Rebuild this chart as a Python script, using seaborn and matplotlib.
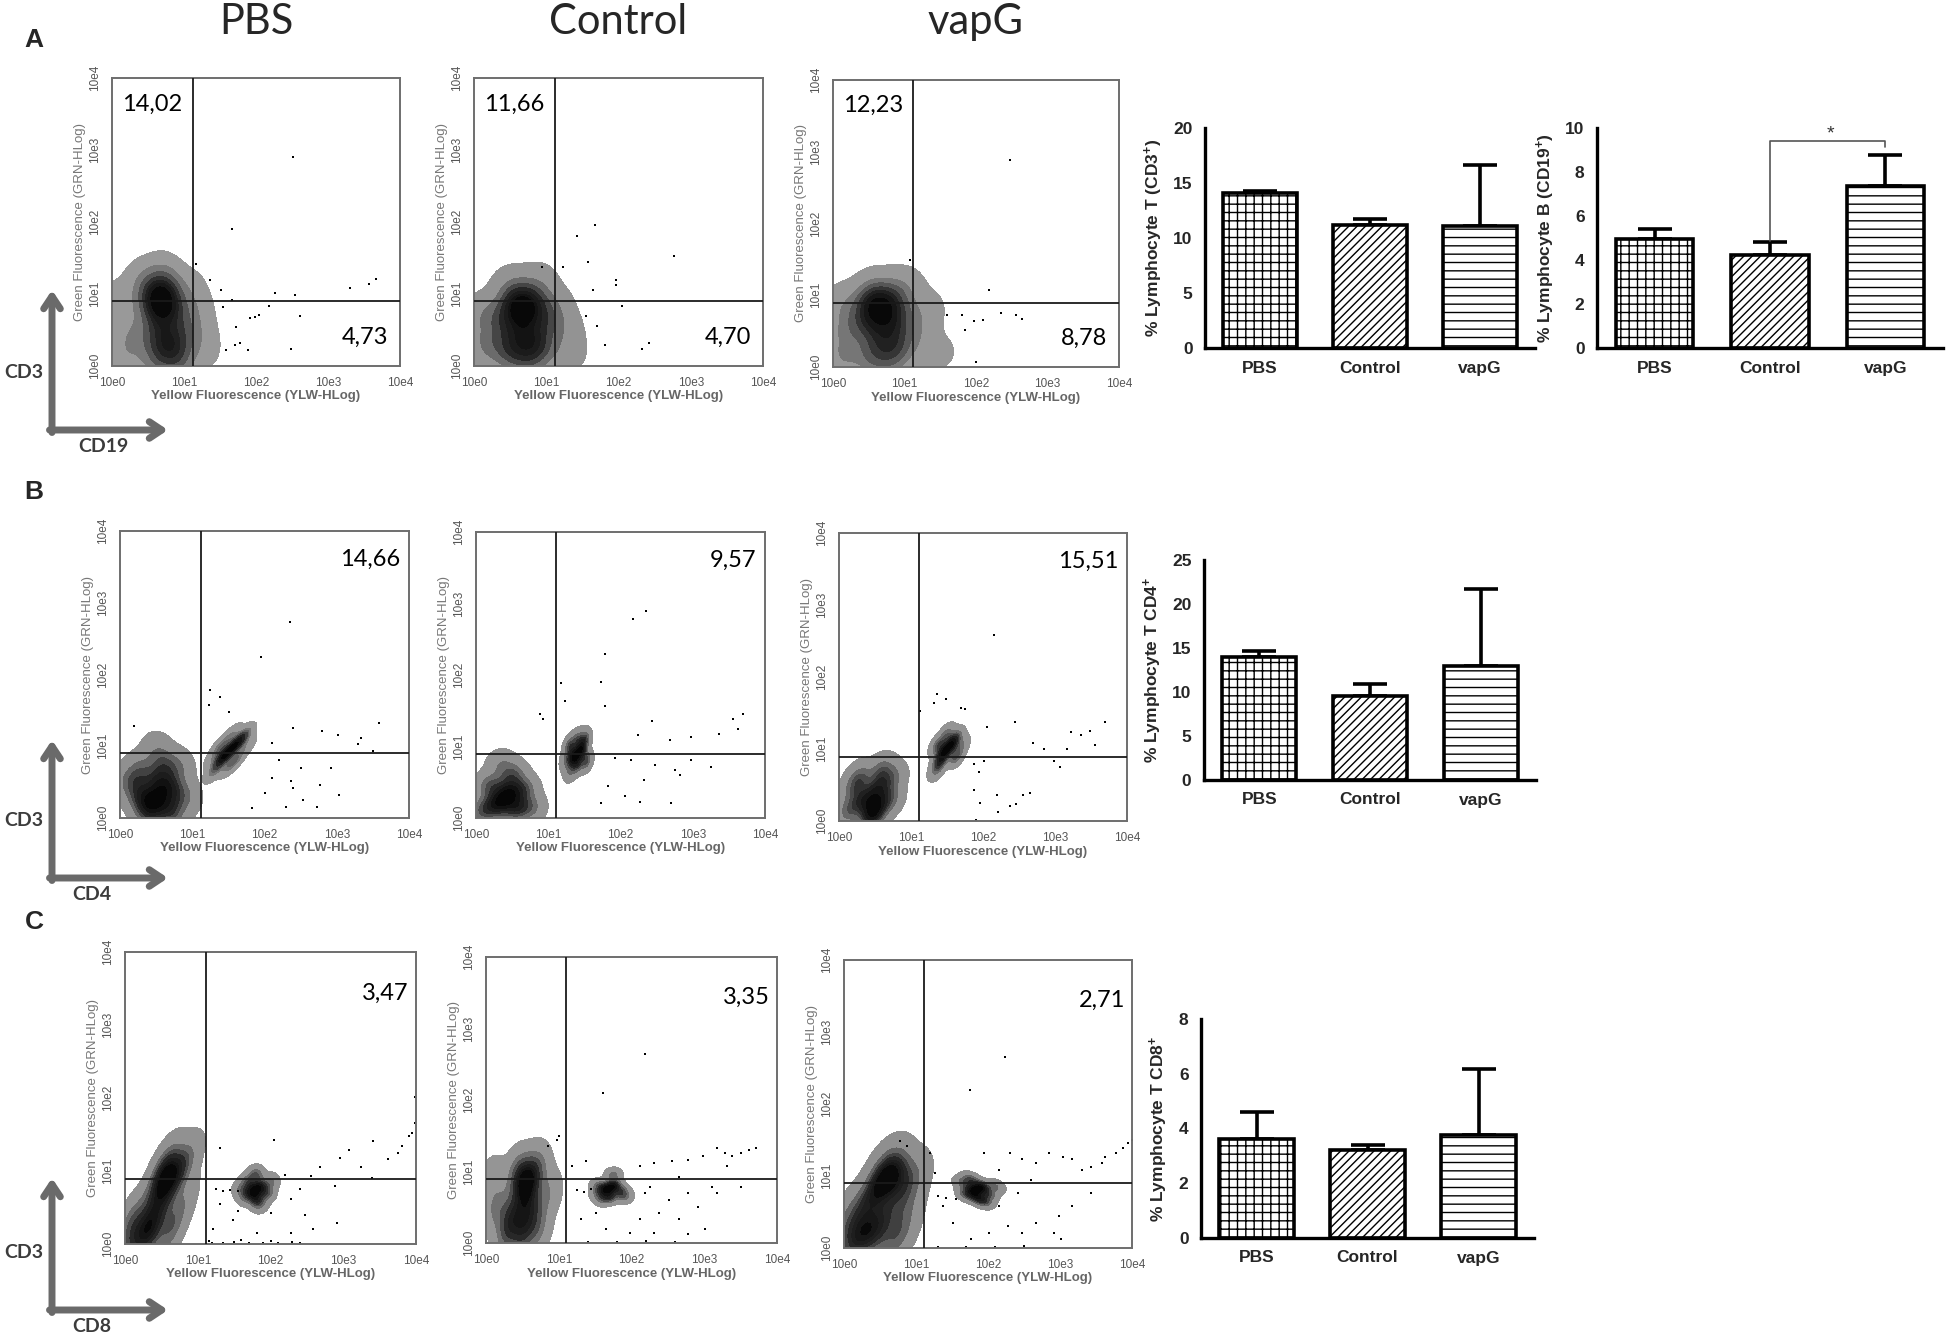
import numpy as np
import matplotlib
matplotlib.use("Agg")
import matplotlib.pyplot as plt
from matplotlib.colors import LinearSegmentedColormap
import seaborn as sns

# bar chart values (mean, upper error)
groups = ["PBS", "Control", "vapG"]
cd3_mean = [14.05, 11.2, 11.05]
cd3_err = [0.25, 0.5, 5.55]
cd19_mean = [4.95, 4.25, 7.38]
cd19_err = [0.45, 0.57, 1.41]
cd4_mean = [14.0, 9.6, 13.0]
cd4_err = [0.7, 1.3, 8.7]
cd8_mean = [3.62, 3.21, 3.77]
cd8_err = [1.0, 0.17, 2.4]

# quadrant percentages
a_upper_left = ["14,02", "11,66", "12,23"]
a_lower_right = ["4,73", "4,70", "8,78"]
b_upper_right = ["14,66", "9,57", "15,51"]
c_upper_right = ["3,47", "3,35", "2,71"]

# gate positions in decades (x, y)
a_gates = [(1.12, 0.90), (1.12, 0.90), (1.12, 0.89)]
b_gates = [(1.12, 0.90), (1.11, 0.89), (1.11, 0.89)]
c_gates = [(1.11, 0.89), (1.10, 0.89), (1.11, 0.90)]

# dense populations, one list per cluster: (log x, log y, weight)
a_pbs_cloud = [[(0.55, 0.95, 4), (0.7, 0.9, 5), (0.65, 1.05, 3), (0.8, 1.0, 3), (0.6, 0.75, 3),
                (0.85, 0.8, 3), (0.7, 0.45, 4), (0.85, 0.3, 4), (0.65, 0.15, 4), (0.9, 0.1, 3),
                (1.05, 0.35, 2), (1.0, 0.6, 2), (0.15, 0.5, 1), (0.2, 0.15, 1.5), (0.1, 0.85, 1),
                (1.2, 0.7, 0.8), (1.3, 0.3, 0.7), (0.75, 1.2, 1), (0.4, 1.1, 1), (0.45, 0.4, 2),
                (1.1, 1.0, 1)]]
a_ctrl_cloud = [[(0.55, 0.8, 4), (0.75, 0.75, 4), (0.65, 0.95, 3), (0.85, 0.9, 2), (0.4, 0.6, 2),
                 (0.6, 0.45, 3), (0.8, 0.4, 3), (0.5, 0.2, 3), (0.75, 0.15, 3), (0.95, 0.25, 2),
                 (0.2, 0.3, 2), (0.15, 0.7, 1.5), (1.0, 0.6, 2), (1.1, 0.8, 1.2), (1.25, 0.5, 0.8),
                 (1.3, 0.2, 0.8), (0.9, 1.15, 0.8), (0.5, 1.1, 0.8)]]
a_vapg_cloud = [[(0.55, 0.85, 5), (0.7, 0.8, 5), (0.6, 1.0, 3), (0.85, 0.95, 3), (0.8, 0.65, 4),
                 (0.45, 0.65, 3), (0.6, 0.45, 3), (0.8, 0.4, 3), (0.55, 0.15, 3), (0.8, 0.15, 3),
                 (0.95, 0.3, 2), (0.2, 0.5, 2), (0.15, 0.15, 2), (0.15, 0.85, 1.5), (1.05, 0.65, 2),
                 (1.2, 0.4, 1), (1.3, 0.8, 0.8), (1.0, 1.1, 1), (1.5, 0.2, 0.5)]]
b_pbs_cloud = [[(0.3, 0.3, 3), (0.5, 0.25, 4), (0.55, 0.5, 3), (0.7, 0.4, 3), (0.4, 0.1, 3),
                (0.7, 0.1, 3), (0.3, 0.65, 2), (0.6, 0.75, 2), (0.15, 0.5, 2), (0.8, 0.7, 1.5),
                (0.9, 0.3, 1.5), (0.5, 0.95, 1)],
               [(1.45, 0.88, 5), (1.55, 0.97, 5), (1.65, 1.07, 4), (1.38, 0.78, 3), (1.72, 1.15, 2),
                (1.3, 0.65, 1.5), (1.4, 1.0, 2), (1.6, 0.82, 2), (1.55, 1.15, 1.5), (1.5, 0.72, 1.5),
                (1.75, 1.0, 1), (1.3, 0.85, 1)]]
b_ctrl_cloud = [[(0.3, 0.2, 4), (0.45, 0.35, 4), (0.55, 0.15, 3), (0.2, 0.45, 2), (0.5, 0.6, 2),
                 (0.65, 0.4, 2), (0.1, 0.1, 2), (0.35, 0.75, 1), (0.75, 0.15, 1.5)],
                [(1.35, 0.85, 4), (1.45, 0.95, 4), (1.4, 0.75, 2), (1.5, 1.1, 2), (1.3, 0.65, 1),
                 (1.3, 1.0, 2), (1.52, 0.8, 2), (1.4, 1.1, 1.5), (1.25, 0.8, 1)]]
b_vapg_cloud = [[(0.35, 0.3, 3), (0.5, 0.2, 4), (0.55, 0.45, 3), (0.7, 0.3, 2), (0.3, 0.6, 2),
                 (0.6, 0.7, 2), (0.15, 0.15, 2), (0.75, 0.6, 1.5), (0.45, 0.05, 3), (0.2, 0.45, 1.5)],
                [(1.45, 0.95, 4), (1.55, 1.05, 4), (1.4, 0.82, 2.5), (1.62, 1.15, 2), (1.35, 0.7, 1),
                 (1.38, 1.05, 2), (1.62, 0.9, 2), (1.5, 1.2, 1.5), (1.7, 1.05, 1)]]
c_pbs_cloud = [[(0.5, 0.9, 4), (0.6, 0.95, 4), (0.65, 0.8, 3), (0.55, 1.1, 2), (0.75, 1.05, 2),
                (0.2, 0.15, 3), (0.35, 0.25, 3), (0.3, 0.05, 3), (0.5, 0.3, 2), (0.4, 0.5, 2),
                (0.15, 0.4, 1.5), (0.6, 0.1, 2), (0.5, 0.65, 1.5), (0.1, 0.1, 2), (0.8, 0.6, 1),
                (0.85, 1.1, 1.5), (0.05, 0.3, 1.5), (0.7, 0.35, 1.5)],
               [(1.75, 0.72, 3), (1.85, 0.78, 3), (1.8, 0.62, 2), (1.7, 0.85, 1.5), (1.95, 0.7, 1.5),
                (1.65, 0.65, 1), (1.8, 0.95, 1.5), (1.6, 0.75, 1), (2.0, 0.85, 1), (1.85, 0.55, 1)]]
c_ctrl_cloud = [[(0.5, 0.85, 4), (0.6, 0.9, 4), (0.45, 1.0, 2), (0.7, 1.05, 2), (0.55, 0.65, 3),
                 (0.35, 0.4, 3), (0.5, 0.35, 3), (0.65, 0.45, 2.5), (0.3, 0.15, 3), (0.5, 0.1, 3),
                 (0.15, 0.5, 2), (0.1, 0.9, 1), (0.7, 0.2, 2), (0.85, 0.7, 1.5)],
                [(1.65, 0.75, 3), (1.75, 0.8, 3), (1.7, 0.65, 2), (1.85, 0.72, 1.5), (1.55, 0.7, 1),
                 (1.55, 0.8, 1), (1.75, 0.95, 1), (1.9, 0.65, 1), (1.6, 0.62, 1)]]
c_vapg_cloud = [[(0.55, 0.95, 4), (0.7, 1.0, 4), (0.6, 1.15, 2), (0.8, 0.85, 2), (0.45, 0.8, 2),
                 (0.3, 0.3, 3), (0.45, 0.2, 3), (0.2, 0.1, 3), (0.55, 0.45, 2), (0.3, 0.6, 2),
                 (0.1, 0.5, 1.5), (0.8, 0.3, 1.5), (0.85, 0.6, 1.5), (0.95, 0.95, 1.5),
                 (0.05, 0.2, 2), (0.7, 0.1, 2)],
                [(1.8, 0.8, 3), (1.9, 0.85, 3), (1.85, 0.7, 2), (1.7, 0.75, 1.5), (2.0, 0.75, 1.5),
                 (1.75, 0.95, 1.5), (1.95, 0.65, 1.5), (2.1, 0.85, 1), (1.65, 0.9, 1)]]

# sparse single events (log x, log y)
a_pbs_dots = [(2.51, 2.9), (1.67, 1.9), (1.16, 1.41), (2.26, 1.02), (2.54, 0.98), (3.31, 1.09),
              (3.57, 1.14), (3.66, 1.21), (2.18, 0.83), (1.91, 0.66), (1.98, 0.68), (2.04, 0.71),
              (2.61, 0.7), (1.72, 0.54), (1.78, 0.32), (1.71, 0.29), (1.59, 0.22), (1.89, 0.22),
              (2.48, 0.23), (1.67, 0.91), (1.54, 0.82), (1.36, 1.2), (1.52, 1.06)]
a_ctrl_dots = [(1.67, 1.96), (1.43, 1.8), (2.77, 1.53), (1.58, 1.45), (1.96, 1.19), (1.96, 1.12),
               (1.65, 1.06), (2.05, 0.84), (2.42, 0.32), (2.32, 0.23), (1.82, 0.29), (1.23, 1.38),
               (0.94, 1.38), (1.55, 0.7), (1.7, 0.55)]
a_vapg_dots = [(2.47, 2.88), (1.08, 1.49), (2.18, 1.07), (2.35, 0.75), (2.56, 0.72), (2.64, 0.67),
               (1.85, 0.51), (1.97, 0.64), (2.1, 0.66), (1.8, 0.73), (1.6, 0.72), (2.0, 0.07)]
b_pbs_dots = [(1.24, 1.79), (1.38, 1.69), (1.23, 1.58), (1.51, 1.48), (2.35, 2.73), (1.95, 2.24),
              (2.39, 1.25), (2.79, 1.21), (3.02, 1.15), (3.33, 1.12), (3.58, 1.32), (3.29, 1.03),
              (3.5, 0.94), (0.19, 1.28), (2.5, 0.7), (2.92, 0.7), (2.37, 0.51), (2.4, 0.42),
              (2.77, 0.46), (3.03, 0.32), (2.53, 0.25), (2.73, 0.16), (2.3, 0.16), (2.1, 0.56),
              (2.0, 0.35), (1.83, 0.14), (2.2, 0.81), (2.1, 1.04)]
b_ctrl_dots = [(2.35, 2.89), (2.17, 2.78), (1.79, 2.3), (1.73, 1.9), (1.18, 1.89), (1.23, 1.64),
               (1.79, 1.57), (0.89, 1.46), (0.93, 1.39), (3.56, 1.39), (3.69, 1.46), (3.62, 1.25),
               (3.37, 1.17), (2.98, 1.13), (2.68, 1.09), (2.44, 1.36), (2.24, 1.16), (1.92, 0.84),
               (2.14, 0.81), (2.48, 0.74), (3.25, 0.71), (2.98, 0.81), (2.75, 0.67), (2.82, 0.6),
               (2.33, 0.53), (2.7, 0.21), (2.27, 0.22), (2.06, 0.31), (1.83, 0.45), (1.73, 0.21)]
b_vapg_dots = [(2.15, 2.59), (1.36, 1.76), (1.32, 1.64), (1.49, 1.69), (1.69, 1.57), (1.75, 1.55),
               (1.12, 1.53), (2.45, 1.38), (2.05, 1.31), (2.69, 1.08), (2.85, 1.0), (3.22, 1.23),
               (3.36, 1.2), (3.49, 1.25), (3.69, 1.37), (3.55, 1.06), (3.16, 1.0), (2.98, 0.84),
               (3.07, 0.75), (2.02, 0.84), (1.88, 0.79), (1.95, 0.68), (2.2, 0.36), (1.96, 0.25),
               (2.21, 0.13), (2.56, 0.36), (2.65, 0.39), (2.38, 0.21), (2.46, 0.24), (1.87, 0.43),
               (1.9, 0.01)]
c_pbs_dots = [(3.98, 2.01), (3.98, 1.66), (3.95, 1.52), (3.91, 1.48), (3.81, 1.34), (3.75, 1.25),
              (3.61, 1.16), (3.41, 1.41), (3.25, 1.06), (3.08, 1.29), (2.95, 1.18), (2.88, 0.79),
              (2.68, 1.06), (2.55, 0.93), (2.41, 0.75), (2.28, 0.61), (2.48, 0.4), (2.58, 0.2),
              (2.91, 0.29), (2.28, 0.15), (2.05, 1.43), (1.31, 1.32), (1.81, 0.15), (1.48, 0.33),
              (1.21, 0.2), (2.01, 0.42), (1.2, 0.02), (1.35, 0.02), (1.5, 0.03), (1.7, 0.02),
              (1.9, 0.02), (2.1, 0.02), (2.3, 0.03), (1.15, 0.04), (1.6, 0.05), (2.0, 0.04),
              (2.4, 0.02), (1.3, 0.55), (1.55, 0.45), (2.2, 0.95), (3.4, 0.9), (1.25, 0.75),
              (1.35, 0.72), (1.45, 0.74), (1.55, 0.73)]
c_ctrl_dots = [(2.18, 2.65), (1.61, 2.1), (3.18, 1.33), (3.28, 1.26), (3.38, 1.21), (3.51, 1.26),
               (3.61, 1.3), (3.71, 1.33), (2.98, 1.21), (2.78, 1.16), (2.55, 1.14), (2.31, 1.12),
               (2.11, 1.07), (3.11, 0.79), (3.18, 0.7), (2.91, 0.51), (3.01, 0.19), (2.65, 0.33),
               (2.51, 0.6), (2.38, 0.42), (2.18, 0.7), (2.11, 0.33), (1.98, 0.14), (2.31, 0.14),
               (2.78, 0.12), (1.51, 0.42), (1.31, 0.33), (1.65, 0.19), (1.18, 1.07), (1.38, 1.14),
               (0.98, 1.44), (0.85, 1.35), (1.01, 1.49), (2.65, 0.93), (2.25, 0.79), (3.51, 0.79),
               (3.31, 1.07), (2.78, 0.7), (1.4, 0.02), (1.8, 0.02), (2.2, 0.03), (2.6, 0.02),
               (1.25, 0.74), (1.35, 0.72), (1.45, 0.76)]
c_vapg_dots = [(2.23, 2.65), (1.75, 2.19), (4.0, 1.5), (3.94, 1.46), (3.87, 1.39), (3.78, 1.32),
               (3.62, 1.27), (3.59, 1.18), (3.43, 1.13), (3.3, 1.09), (3.17, 1.23), (3.04, 1.27),
               (2.85, 1.32), (2.66, 1.18), (2.47, 1.23), (2.31, 1.32), (2.15, 1.09), (1.95, 1.32),
               (3.43, 0.76), (3.17, 0.58), (2.98, 0.44), (2.92, 0.21), (3.01, 0.12), (2.66, 0.35),
               (2.47, 0.21), (2.28, 0.3), (2.15, 0.58), (2.41, 0.76), (1.38, 0.58), (1.26, 1.04),
               (1.19, 1.32), (0.87, 1.41), (0.78, 1.48), (1.51, 0.35), (1.77, 0.12), (2.02, 0.21),
               (2.6, 0.94), (1.3, 0.02), (1.7, 0.02), (2.1, 0.02), (2.5, 0.03), (1.3, 0.72),
               (1.42, 0.7), (1.55, 0.68)]

sns.set_style("white")
plt.rcParams["font.family"] = ["Liberation Sans", "DejaVu Sans"]
plt.rcParams["mathtext.fontset"] = "custom"
plt.rcParams["mathtext.rm"] = "Liberation Sans:bold"
plt.rcParams["mathtext.default"] = "rm"
plt.rcParams["hatch.linewidth"] = 1.0

W, H = 1950, 1335
fig = plt.figure(figsize=(19.5, 13.35), dpi=100)
cloud_cmap = LinearSegmentedColormap.from_list("cloud", ["#a8a8a8", "#262626", "#000000"])
GRAY = "#6e6e6e"


def rect(l, t, r, b):
    return [l / W, 1 - b / H, (r - l) / W, (b - t) / H]


def draw_cloud(ax, clusters):
    for pts in clusters:
        sns.kdeplot(x=[p[0] for p in pts], y=[p[1] for p in pts], weights=[p[2] for p in pts],
                    fill=True, bw_method=0.6, levels=8, thresh=0.015,
                    cmap=cloud_cmap, gridsize=160, ax=ax, zorder=1)


def flow_plot(box, cloud, dots, gate):
    ax = fig.add_axes(rect(*box))
    draw_cloud(ax, cloud)
    sns.scatterplot(x=[d[0] for d in dots], y=[d[1] for d in dots], s=3, marker="s",
                    color="black", linewidth=0, ax=ax, zorder=2, legend=False)
    ax.axvline(gate[0], color="#1a1a1a", lw=1.3, zorder=3)
    ax.axhline(gate[1], color="#1a1a1a", lw=1.3, zorder=3)
    ax.set_xlim(0, 4)
    ax.set_ylim(0, 4)
    dec = ["10e0", "10e1", "10e2", "10e3", "10e4"]
    ax.set_xticks(range(5), dec)
    ax.set_yticks(range(5), dec)
    minor = [d + np.log10(k) for d in range(4) for k in range(2, 10)]
    ax.set_xticks(minor, minor=True)
    ax.set_yticks(minor, minor=True)
    ax.tick_params(which="both", direction="out", color=GRAY, width=1.0, labelsize=8.5,
                   labelcolor="#555555", pad=2)
    ax.tick_params(which="major", length=6)
    ax.tick_params(which="minor", length=3)
    for lab in ax.get_yticklabels():
        lab.set_rotation(90)
        lab.set_va("center")
    for s in ax.spines.values():
        s.set_color(GRAY)
        s.set_linewidth(1.4)
    ax.set_xlabel("Yellow Fluorescence (YLW-HLog)", color="#666666", fontsize=9.5,
                  fontweight="bold", labelpad=1)
    ax.set_ylabel("Green Fluorescence (GRN-HLog)", color="#777777", fontsize=9.5, labelpad=2)
    return ax


def quad_text(ax, txt, x, y, ha):
    ax.text(x, y, txt, transform=ax.transAxes, ha=ha, va="center", fontsize=17,
            family="Lato", color="black", zorder=4)


def bar_plot(box, means, errs, ymax, ystep, ylabel):
    ax = fig.add_axes(rect(*box))
    sns.barplot(x=groups, y=means, color="white", width=0.67, edgecolor="black",
                linewidth=2.6, ax=ax, zorder=2)
    for patch, hatch in zip(ax.patches, ["++", "////", "--"]):
        patch.set_hatch(hatch)
    ax.errorbar(range(3), means, yerr=[[0, 0, 0], errs], fmt="none", ecolor="black",
                elinewidth=2.6, capsize=12, capthick=2.6, zorder=1)
    ax.set_xlim(-0.5, 2.5)
    ax.set_ylim(0, ymax)
    ax.set_yticks(np.arange(0, ymax + 0.01, ystep))
    sns.despine(ax=ax)
    for s in ["left", "bottom"]:
        ax.spines[s].set_linewidth(2.4)
        ax.spines[s].set_color("black")
    ax.tick_params(axis="both", direction="out", length=6, width=2, color="black",
                   labelsize=12.5, pad=3)
    for lab in ax.get_xticklabels() + ax.get_yticklabels():
        lab.set_fontweight("bold")
    ax.set_ylabel(ylabel, fontsize=12.5, fontweight="bold", labelpad=6)
    ax.set_xlabel("")
    return ax


# row A
a_boxes = [(112, 78, 400, 366), (474, 78, 763, 366), (833, 80, 1119, 367)]
a_clouds = [a_pbs_cloud, a_ctrl_cloud, a_vapg_cloud]
a_dots = [a_pbs_dots, a_ctrl_dots, a_vapg_dots]
for i in range(3):
    ax = flow_plot(a_boxes[i], a_clouds[i], a_dots[i], a_gates[i])
    quad_text(ax, a_upper_left[i], 0.035, 0.91, "left")
    quad_text(ax, a_lower_right[i], 0.96, 0.10, "right")

# row B
b_boxes = [(120, 531, 409, 818), (476, 532, 765, 818), (839, 533, 1127, 821)]
b_clouds = [b_pbs_cloud, b_ctrl_cloud, b_vapg_cloud]
b_dots = [b_pbs_dots, b_ctrl_dots, b_vapg_dots]
for i in range(3):
    ax = flow_plot(b_boxes[i], b_clouds[i], b_dots[i], b_gates[i])
    quad_text(ax, b_upper_right[i], 0.97, 0.90, "right")

# row C
c_boxes = [(125, 952, 416, 1244), (486, 957, 777, 1243), (844, 960, 1132, 1248)]
c_clouds = [c_pbs_cloud, c_ctrl_cloud, c_vapg_cloud]
c_dots = [c_pbs_dots, c_ctrl_dots, c_vapg_dots]
for i in range(3):
    ax = flow_plot(c_boxes[i], c_clouds[i], c_dots[i], c_gates[i])
    quad_text(ax, c_upper_right[i], 0.975, 0.86, "right")

# bar charts
bar_plot((1205, 128, 1535, 348), cd3_mean, cd3_err, 20, 5, r"% Lymphocyte T (CD3$^{+}$)")
ax19 = bar_plot((1597, 128, 1943, 348), cd19_mean, cd19_err, 10, 2,
                r"% Lymphocyte B (CD19$^{+}$)")
ax19.plot([1, 1, 2, 2], [4.85, 9.4, 9.4, 9.15], color="#555555", lw=1.2, clip_on=False, zorder=3)
ax19.text(1.52, 9.75, "*", ha="center", va="center", fontsize=14, color="#333333")
bar_plot((1204, 560, 1536, 780), cd4_mean, cd4_err, 25, 5, r"% Lymphocyte T CD4$^{+}$")
bar_plot((1201, 1019, 1534, 1238), cd8_mean, cd8_err, 8, 2, r"% Lymphocyte T CD8$^{+}$")

# overlay: titles, panel letters, axis arrows
ov = fig.add_axes([0, 0, 1, 1])
ov.set_xlim(0, W)
ov.set_ylim(H, 0)
ov.axis("off")
for x, t in zip([256, 618, 976], groups):
    ov.text(x, 22, t, ha="center", va="center", fontsize=30, family="Lato")
for y, t in zip([40, 492, 922], ["A", "B", "C"]):
    ov.text(34, y, t, ha="center", va="center", fontsize=19, fontweight="bold")

arrow_rows = [(290, 430, "CD19"), (740, 878, "CD4"), (1178, 1310, "CD8")]
for tip, corner, lab in arrow_rows:
    kw = dict(arrowstyle="->,head_length=0.9,head_width=0.6", color="#6a6a6a", lw=5,
              shrinkA=0, shrinkB=0)
    ov.annotate("", xy=(52, tip), xytext=(52, corner + 2.5), arrowprops=kw)
    ov.annotate("", xy=(168, corner), xytext=(49.5, corner), arrowprops=kw)
    ov.text(24, corner - 58, "CD3", ha="center", va="center", fontsize=14,
            family="Lato", fontweight="bold", color="#3c3c3c")
    ov.text(92 if lab != "CD19" else 103, corner + 17, lab, ha="center", va="center",
            fontsize=14, family="Lato", fontweight="bold", color="#3c3c3c")

fig.savefig("out.png", dpi=100)
